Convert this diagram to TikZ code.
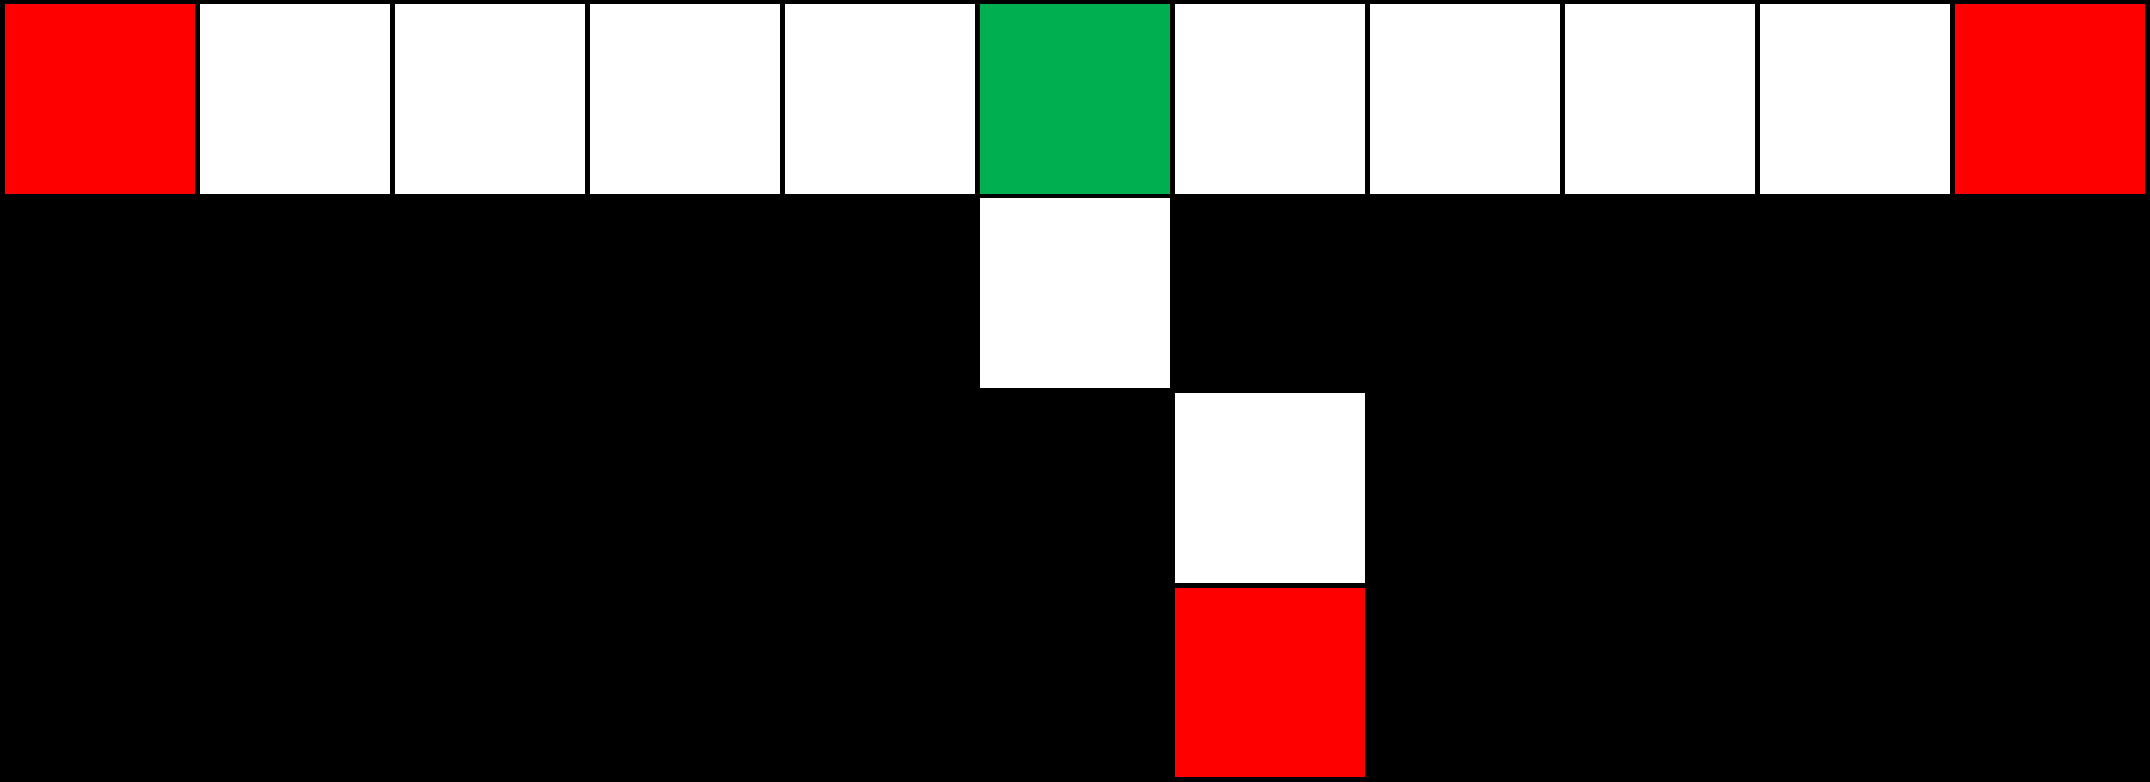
\documentclass[tikz,border=0pt]{standalone}
\usepackage{tikz}
\definecolor{CellRed}{HTML}{FF0000}
\definecolor{CellGreen}{HTML}{00AF50}

\begin{document}
\begin{tikzpicture}[x=1cm, y=1cm, inner sep=0pt,
    cell/.style={rectangle, minimum size=0.974cm, fill=white}]
  \fill[black] (0,0) rectangle (11.026,4.010);
  \useasboundingbox (0,0) rectangle (11.026,4.010);
  % top row
  \foreach \i in {0,...,10}
    \path node (T\i) at (0.5128+\i,3.503) [cell] {};
  \path node (T0)  at ( 0.5128,3.503) [cell, fill=CellRed] {}
        node (T5)  at ( 5.5128,3.503) [cell, fill=CellGreen] {}
        node (T10) at (10.5128,3.503) [cell, fill=CellRed] {};
  % path down
  \path node (A) at (5.5128,2.505) [cell] {}
        node (B) at (6.5128,1.508) [cell] {}
        node (C) at (6.5128,0.510) [cell, fill=CellRed] {};
\end{tikzpicture}
\end{document}
